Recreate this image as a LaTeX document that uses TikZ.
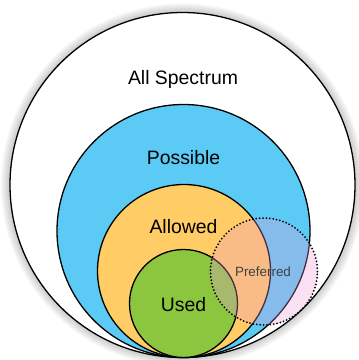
\documentclass[tikz,border=0pt]{standalone}
\usepackage{fontspec}
\setmainfont{Liberation Sans}
\definecolor{possibleblue}{HTML}{5BCBF5}
\definecolor{allowedorange}{HTML}{FFCC66}
\definecolor{usedgreen}{HTML}{8CC63F}
\definecolor{preferredpink}{HTML}{EC9AD6}
\usetikzlibrary{positioning}

\begin{document}
\begin{tikzpicture}[
  x=1pt, y=-1pt,
  every node/.style={font=\fontsize{19.4}{23}\selectfont},
  ring/.style={circle, draw=black, line width=1.3pt, inner sep=0pt},
  lbl/.style={inner sep=1pt}
]
  \useasboundingbox (0,0) rectangle (359,360);

  % soft shadow round the outer circle
  \foreach \w in {3,6,...,18}
    \draw[black, opacity=0.035, line width=\w pt] (182.5,185) circle (172.5);

  \node[ring, fill=white, minimum size=345pt] (all) at (182.5,185) {};
  \node[ring, fill=possibleblue, minimum size=253pt] (possible) at (183.5,231) {};
  \node[ring, fill=allowedorange, minimum size=173pt] (allowed) at (184,271) {};
  \node[ring, fill=usedgreen, minimum size=108pt] (used) at (183.5,303.5) {};
  \node[circle, inner sep=0pt, minimum size=107pt, fill=preferredpink,
        fill opacity=0.3, draw=black, line width=2pt, line cap=round,
        dash pattern=on 0pt off 3.4pt]
    (preferred) at (264,271.5) {};

  \node[lbl] (alllbl) at (183,79) {All Spectrum};
  \node[lbl] (possiblelbl) at (183.5,158) {Possible};
  \node[lbl] (allowedlbl) at (183.5,227) {Allowed};
  \node[lbl] (usedlbl) at (183.5,305) {Used};
  \node[lbl, font=\fontsize{13.4}{16}\selectfont, text=black!75]
    (preferredlbl) at (263,272) {Preferred};
\end{tikzpicture}
\end{document}
